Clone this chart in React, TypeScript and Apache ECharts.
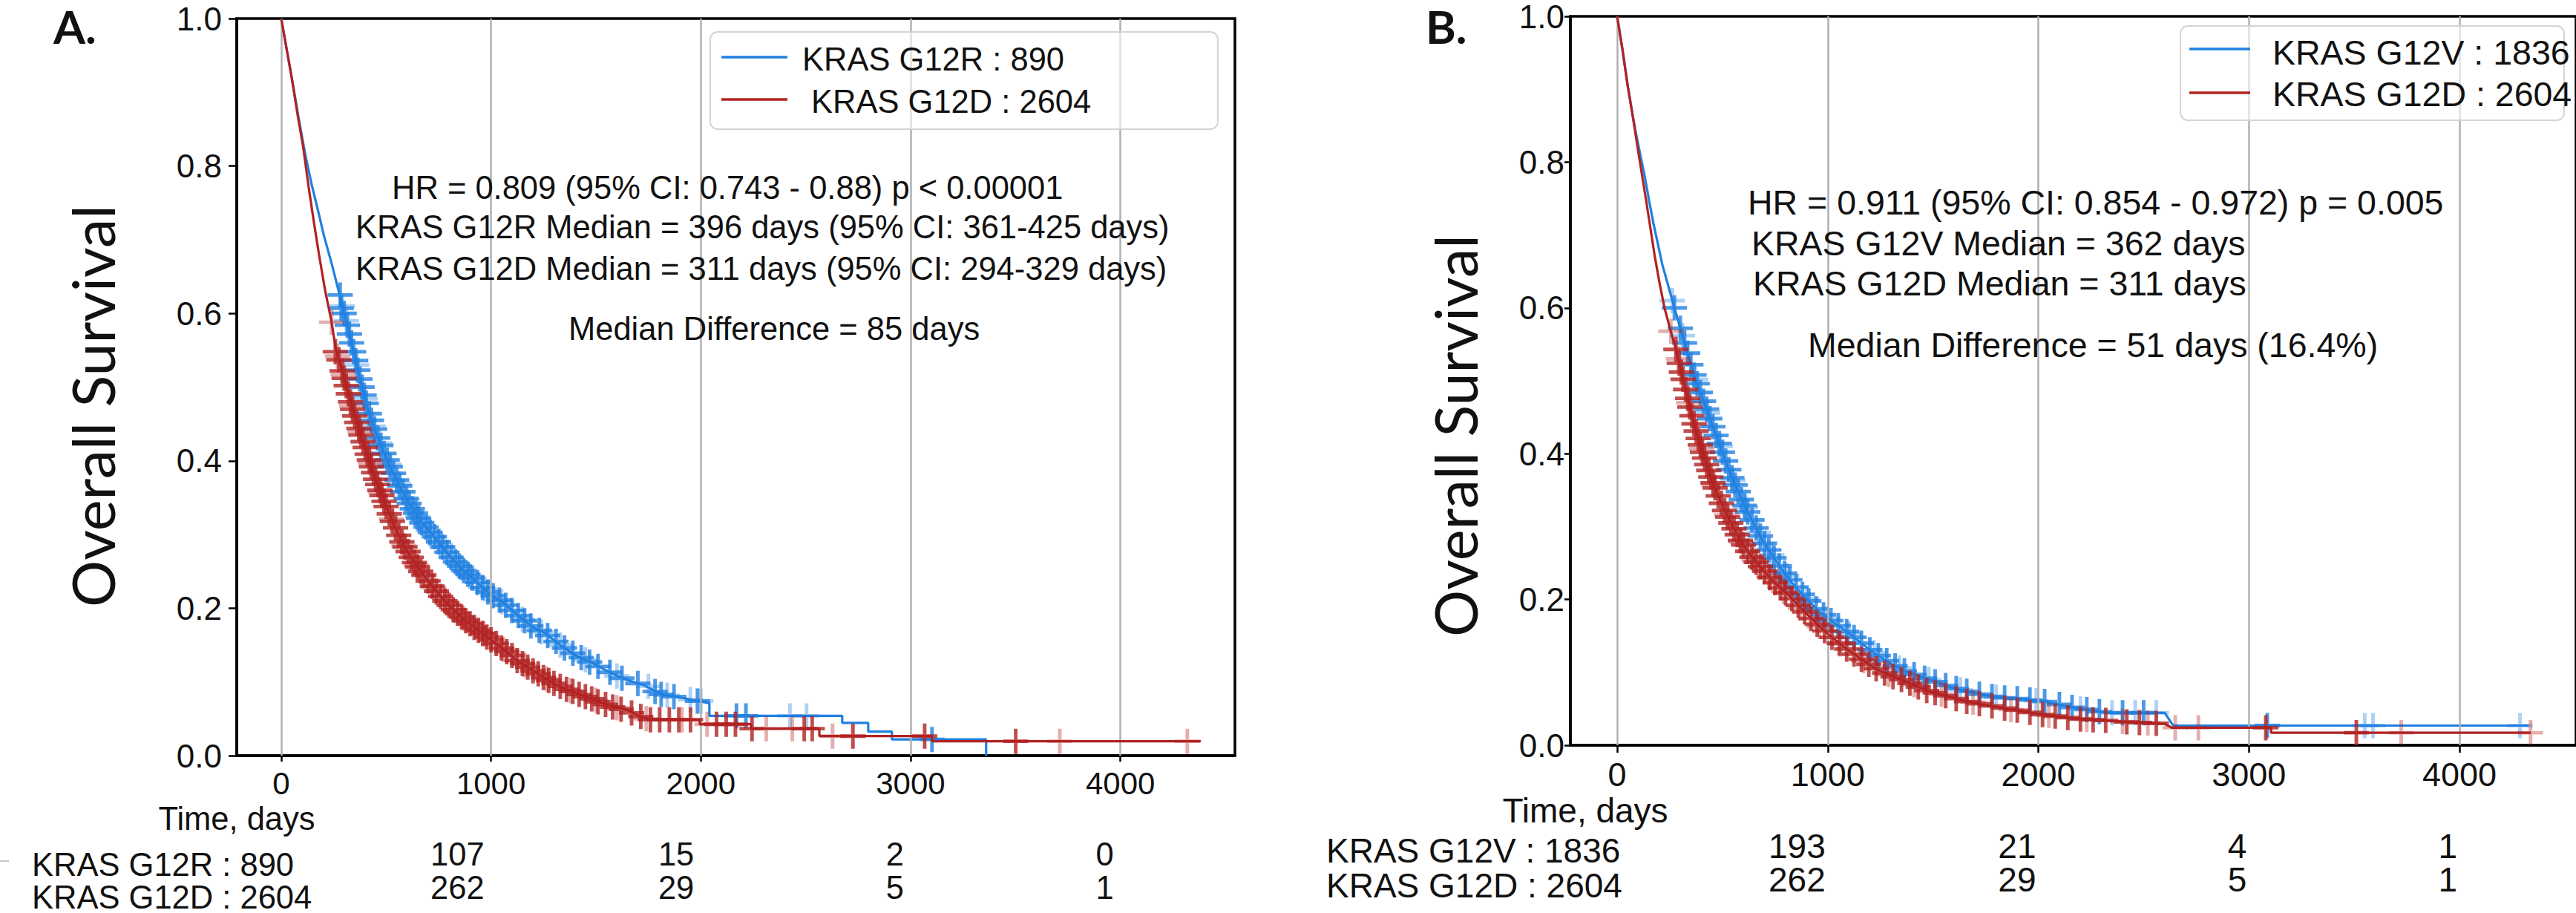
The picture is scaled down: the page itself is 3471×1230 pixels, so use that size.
import React, { useEffect, useRef } from 'react';
import * as echarts from 'echarts';

const SANS = "'Liberation Sans', Arial, Helvetica, sans-serif";
const HUMAN = "Lato, 'Open Sans', sans-serif";
const BLUE = '#1f80e0';
const BLUE_LIGHT = 'rgba(31,128,224,0.45)';
const RED = '#b22222';
const RED_LIGHT = 'rgba(178,34,34,0.45)';
const GRID_GRAY = '#b0b0b0';
const INK = '#111111';

// ---------- axis ticks ----------
const xTicks = [0, 1000, 2000, 3000, 4000];
const riskDays = [1000, 2000, 3000, 4000];

// ---------- Panel A: KRAS G12R vs G12D ----------
const aG12R_curve: [number, number][] = [
  [0, 1], [25, 0.96], [50, 0.92], [85, 0.862], [115, 0.815], [145, 0.775], [175, 0.74], [203, 0.706],
  [240, 0.668], [265, 0.64], [283, 0.62], [300, 0.6], [320, 0.578], [345, 0.548], [380, 0.505],
  [415, 0.468], [455, 0.435], [498, 0.405], [550, 0.374], [603, 0.345], [665, 0.318], [732, 0.296],
  [800, 0.272], [862, 0.253], [930, 0.236], [1000, 0.218], [1055, 0.208], [1130, 0.19], [1200, 0.174],
  [1258, 0.166], [1330, 0.15], [1410, 0.135], [1481, 0.126], [1546, 0.116], [1634, 0.104], [1726, 0.096],
  [1815, 0.083], [1928, 0.0775], [2041, 0.071], [2041, 0.054], [2674, 0.054], [2674, 0.0445],
  [2798, 0.0445], [2798, 0.0327], [2911, 0.0327], [2911, 0.022], [3360, 0.022], [3360, 0],
];
const aG12D_curve: [number, number][] = [
  [0, 1], [25, 0.96], [50, 0.92], [80, 0.866], [105, 0.825], [131, 0.771], [155, 0.725], [180, 0.68],
  [210, 0.63], [239, 0.59], [262, 0.548], [279, 0.534], [309, 0.503], [345, 0.466], [380, 0.435],
  [415, 0.405], [450, 0.375], [485, 0.349], [530, 0.318], [580, 0.287], [640, 0.26], [700, 0.237],
  [760, 0.216], [820, 0.198], [880, 0.183], [940, 0.17], [1000, 0.157], [1072, 0.1415], [1130, 0.128],
  [1185, 0.118], [1240, 0.108], [1298, 0.098], [1350, 0.091], [1410, 0.0846], [1480, 0.077],
  [1546, 0.0695], [1650, 0.062], [1703, 0.054], [1760, 0.0487], [1995, 0.0487], [1995, 0.0426],
  [2240, 0.0426], [2240, 0.0366], [2565, 0.0366], [2565, 0.0265], [3102, 0.0265], [3102, 0.0195],
  [4383, 0.0195],
];
const aG12R_censor: [number, number][] = [
  [281, 0.625], [286, 0.607], [300, 0.6], [315, 0.584], [325, 0.572], [335, 0.56], [345, 0.548], [355, 0.536],
  [365, 0.523], [375, 0.511], [385, 0.5], [395, 0.489], [405, 0.478], [420, 0.464], [430, 0.455],
  [445, 0.443], [460, 0.431], [475, 0.421], [490, 0.41], [505, 0.401], [520, 0.392], [535, 0.383],
  [550, 0.374], [565, 0.366], [580, 0.358], [595, 0.349], [610, 0.342], [625, 0.335], [640, 0.329],
  [655, 0.322], [670, 0.316], [690, 0.31], [710, 0.303], [730, 0.297], [750, 0.29], [770, 0.283],
  [790, 0.276], [810, 0.269], [830, 0.263], [850, 0.257], [870, 0.251], [890, 0.246], [910, 0.241],
  [935, 0.235], [960, 0.228], [985, 0.222], [1010, 0.217], [1040, 0.211], [1070, 0.204], [1100, 0.197],
  [1130, 0.19], [1160, 0.183], [1190, 0.176], [1230, 0.17], [1270, 0.163], [1310, 0.155], [1350, 0.146],
  [1390, 0.139], [1430, 0.133], [1470, 0.127], [1510, 0.121], [1567, 0.113], [1624, 0.105], [1700, 0.098],
  [1782, 0.087], [1811, 0.083], [1872, 0.08], [1984, 0.074], [2170, 0.054], [2215, 0.054], [3102, 0.022],
];
const aG12R_censorLight: [number, number][] = [
  [292, 0.61], [310, 0.59], [360, 0.53], [400, 0.484], [440, 0.447], [470, 0.424], [515, 0.395],
  [560, 0.369], [600, 0.347], [650, 0.324], [700, 0.306], [760, 0.286], [840, 0.26], [900, 0.243],
  [970, 0.226], [1050, 0.209], [1150, 0.185], [1240, 0.168], [1330, 0.15], [1450, 0.13], [1600, 0.108],
  [1750, 0.094], [1840, 0.082], [1950, 0.076], [2000, 0.074], [2425, 0.054], [2504, 0.054],
];
const aG12D_censor: [number, number][] = [
  [258, 0.548], [275, 0.537], [290, 0.522], [300, 0.512], [310, 0.502], [320, 0.491], [330, 0.48],
  [340, 0.47], [350, 0.461], [360, 0.452], [370, 0.444], [380, 0.435], [390, 0.426], [400, 0.418],
  [410, 0.409], [420, 0.401], [430, 0.392], [440, 0.384], [450, 0.375], [460, 0.368], [470, 0.36],
  [480, 0.353], [490, 0.345], [500, 0.338], [515, 0.328], [530, 0.318], [545, 0.309], [560, 0.299],
  [575, 0.29], [590, 0.283], [605, 0.277], [620, 0.269], [635, 0.262], [650, 0.256], [665, 0.25],
  [680, 0.245], [700, 0.237], [720, 0.23], [740, 0.223], [760, 0.216], [780, 0.21], [800, 0.204],
  [820, 0.198], [840, 0.193], [860, 0.188], [880, 0.183], [900, 0.179], [920, 0.174], [940, 0.17],
  [960, 0.166], [980, 0.161], [1000, 0.157], [1025, 0.152], [1050, 0.146], [1075, 0.141], [1100, 0.136],
  [1125, 0.129], [1150, 0.125], [1175, 0.12], [1200, 0.115], [1225, 0.111], [1250, 0.106], [1275, 0.102],
  [1300, 0.098], [1330, 0.094], [1360, 0.09], [1390, 0.087], [1420, 0.083], [1450, 0.08], [1480, 0.077],
  [1510, 0.073], [1546, 0.0695], [1580, 0.066], [1620, 0.063], [1670, 0.058], [1714, 0.053],
  [1760, 0.0487], [1804, 0.0487], [1850, 0.0487], [1895, 0.0487], [1951, 0.0487], [2075, 0.0426],
  [2121, 0.0426], [2165, 0.0426], [2244, 0.0366], [2493, 0.0366], [2531, 0.0366], [2725, 0.0265],
  [3067, 0.0265], [3501, 0.0195],
];
const aG12D_censorLight: [number, number][] = [
  [240, 0.588], [268, 0.542], [295, 0.517], [335, 0.475], [375, 0.44], [425, 0.397], [475, 0.357],
  [525, 0.321], [585, 0.285], [645, 0.258], [725, 0.228], [790, 0.207], [870, 0.186], [965, 0.165],
  [1060, 0.144], [1160, 0.123], [1265, 0.104], [1380, 0.088], [1500, 0.075], [1600, 0.065],
  [1740, 0.05], [1910, 0.0487], [2030, 0.0426], [2312, 0.0366], [2436, 0.0366], [2628, 0.0265],
  [3711, 0.0195], [4319, 0.0195],
];

// ---------- Panel B: KRAS G12V vs G12D ----------
const bG12V_curve: [number, number][] = [
  [0, 1], [25, 0.955], [50, 0.905], [85, 0.846], [110, 0.81], [132, 0.779], [152, 0.747], [173, 0.715],
  [194, 0.687], [214, 0.66], [243, 0.63], [272, 0.6], [296, 0.576], [320, 0.552], [343, 0.53],
  [366, 0.507], [395, 0.484], [425, 0.461], [453, 0.438], [482, 0.416], [511, 0.393], [541, 0.37],
  [576, 0.347], [612, 0.325], [652, 0.302], [693, 0.28], [740, 0.259], [787, 0.239], [833, 0.222],
  [880, 0.207], [953, 0.185], [1020, 0.17], [1090, 0.156], [1160, 0.14], [1227, 0.125], [1295, 0.113],
  [1364, 0.102], [1430, 0.095], [1501, 0.088], [1570, 0.081], [1639, 0.075], [1730, 0.07],
  [1822, 0.065], [2005, 0.0617], [2141, 0.053], [2326, 0.0445], [2600, 0.0445], [2640, 0.027],
  [4329, 0.027],
];
const bG12D_curve: [number, number][] = [
  [0, 1], [25, 0.955], [50, 0.905], [80, 0.852], [100, 0.815], [120, 0.779], [138, 0.747], [155, 0.715],
  [178, 0.672], [202, 0.633], [225, 0.6], [249, 0.574], [279, 0.543], [313, 0.502], [334, 0.477],
  [355, 0.452], [378, 0.428], [401, 0.406], [424, 0.386], [447, 0.366], [476, 0.345], [506, 0.325],
  [546, 0.302], [587, 0.28], [633, 0.261], [682, 0.244], [745, 0.224], [810, 0.207], [880, 0.186],
  [953, 0.165], [1020, 0.148], [1090, 0.132], [1160, 0.118], [1227, 0.105], [1295, 0.096],
  [1364, 0.088], [1430, 0.08], [1501, 0.072], [1570, 0.067], [1639, 0.0617], [1730, 0.056],
  [1822, 0.0516], [1910, 0.047], [2005, 0.0428], [2095, 0.039], [2187, 0.0364], [2372, 0.0327],
  [2600, 0.0293], [2634, 0.024], [3105, 0.024], [3105, 0.0172], [4339, 0.0172],
];
const bG12V_censor: [number, number][] = [
  [272, 0.6], [300, 0.572], [320, 0.552], [335, 0.538], [350, 0.522], [365, 0.508], [380, 0.496],
  [395, 0.484], [410, 0.472], [425, 0.461], [440, 0.448], [455, 0.437], [470, 0.425], [485, 0.414],
  [500, 0.402], [515, 0.39], [530, 0.378], [545, 0.367], [560, 0.357], [575, 0.348], [590, 0.337],
  [605, 0.329], [620, 0.32], [640, 0.309], [660, 0.298], [680, 0.287], [700, 0.277], [720, 0.268],
  [745, 0.257], [770, 0.246], [795, 0.236], [820, 0.227], [850, 0.217], [880, 0.207], [910, 0.198],
  [945, 0.187], [980, 0.179], [1015, 0.171], [1050, 0.164], [1090, 0.156], [1125, 0.148], [1160, 0.14],
  [1200, 0.131], [1240, 0.123], [1280, 0.116], [1320, 0.109], [1364, 0.102], [1410, 0.097],
  [1460, 0.092], [1510, 0.087], [1560, 0.082], [1610, 0.078], [1660, 0.074], [1720, 0.07],
  [1780, 0.067], [1840, 0.065], [1900, 0.064], [1960, 0.062], [2030, 0.06], [2100, 0.056],
  [2160, 0.052], [2230, 0.049], [2290, 0.046], [2400, 0.0445], [2500, 0.0445], [3087, 0.027],
];
const bG12V_censorLight: [number, number][] = [
  [262, 0.61], [310, 0.562], [372, 0.502], [430, 0.456], [490, 0.41], [550, 0.363], [610, 0.326],
  [670, 0.292], [735, 0.261], [805, 0.233], [900, 0.201], [1000, 0.174], [1100, 0.153], [1220, 0.127],
  [1340, 0.106], [1480, 0.09], [1630, 0.076], [1800, 0.066], [1990, 0.061], [2200, 0.05],
  [2350, 0.0445], [2460, 0.0445], [2560, 0.0445], [3550, 0.027], [3589, 0.027], [4287, 0.027],
];
const bG12D_censor: [number, number][] = [
  [279, 0.543], [295, 0.524], [305, 0.512], [313, 0.502], [325, 0.488], [335, 0.476], [345, 0.464],
  [355, 0.452], [365, 0.441], [375, 0.431], [385, 0.421], [395, 0.412], [405, 0.402], [415, 0.394],
  [425, 0.385], [435, 0.377], [445, 0.368], [455, 0.36], [465, 0.353], [480, 0.342], [495, 0.332],
  [510, 0.322], [525, 0.313], [540, 0.305], [555, 0.297], [570, 0.289], [585, 0.281], [600, 0.275],
  [620, 0.266], [640, 0.258], [660, 0.251], [680, 0.245], [700, 0.239], [725, 0.23], [750, 0.223],
  [775, 0.216], [800, 0.209], [830, 0.201], [860, 0.192], [890, 0.183], [920, 0.174], [950, 0.166],
  [985, 0.157], [1020, 0.148], [1055, 0.14], [1090, 0.132], [1125, 0.125], [1160, 0.118], [1195, 0.111],
  [1230, 0.105], [1270, 0.099], [1310, 0.094], [1350, 0.09], [1390, 0.085], [1430, 0.08], [1470, 0.075],
  [1510, 0.072], [1560, 0.068], [1610, 0.064], [1660, 0.06], [1720, 0.057], [1780, 0.054], [1840, 0.051],
  [1900, 0.048], [1960, 0.045], [2020, 0.042], [2080, 0.04], [2140, 0.038], [2200, 0.036], [2260, 0.035],
  [2320, 0.034], [2420, 0.032], [2480, 0.031], [2560, 0.03], [3080, 0.024], [3510, 0.0172],
];
const bG12D_censorLight: [number, number][] = [
  [255, 0.568], [290, 0.53], [340, 0.47], [400, 0.407], [460, 0.357], [520, 0.316], [590, 0.279],
  [650, 0.254], [720, 0.232], [790, 0.211], [870, 0.188], [960, 0.163], [1060, 0.139], [1170, 0.116],
  [1290, 0.097], [1410, 0.083], [1540, 0.07], [1690, 0.059], [1870, 0.049], [2050, 0.041],
  [2230, 0.0355], [2400, 0.0325], [2520, 0.0305], [2650, 0.024], [2760, 0.024], [3723, 0.0172],
  [4337, 0.0172],
];

// ---------- numbers at risk ----------
const riskA_G12R = [107, 15, 2, 0];
const riskA_G12D = [262, 29, 5, 1];
const riskB_G12V = [193, 21, 4, 1];
const riskB_G12D = [262, 29, 5, 1];

// ---------- texts ----------
const legendA = ['KRAS G12R : 890', 'KRAS G12D : 2604'];
const legendB = ['KRAS G12V : 1836', 'KRAS G12D : 2604'];
const notesA = [
  'HR = 0.809 (95% CI: 0.743 - 0.88) p < 0.00001',
  'KRAS G12R Median = 396 days (95% CI: 361-425 days)',
  'KRAS G12D Median = 311 days (95% CI: 294-329 days)',
  'Median Difference = 85 days',
];
const notesB = [
  'HR = 0.911 (95% CI: 0.854 - 0.972) p = 0.005',
  'KRAS G12V Median = 362 days',
  'KRAS G12D Median = 311 days',
  'Median Difference = 51 days (16.4%)',
];

const PLUS = 'path://M-2.3,-16L2.3,-16L2.3,-2.3L16,-2.3L16,2.3L2.3,2.3L2.3,16L-2.3,16L-2.3,2.3L-16,2.3L-16,-2.3L-2.3,-2.3Z';

function curve(data: [number, number][], color: string, gi: number, z: number) {
  return {
    type: 'line', xAxisIndex: gi, yAxisIndex: gi, data, showSymbol: false, symbol: 'none',
    lineStyle: { color, width: 3.2 }, itemStyle: { color }, z, silent: true, clip: true,
  };
}
function marks(data: [number, number][], color: string, gi: number, z: number) {
  return {
    type: 'scatter', xAxisIndex: gi, yAxisIndex: gi, data, symbol: PLUS, symbolSize: 34,
    itemStyle: { color }, z, silent: true,
  };
}
function gridLines(gi: number) {
  return {
    type: 'line', xAxisIndex: gi, yAxisIndex: gi, data: [], z: 1, silent: true,
    markLine: {
      silent: true, symbol: 'none', label: { show: false },
      lineStyle: { color: GRID_GRAY, width: 2.5, type: 'solid' },
      data: xTicks.map((v) => ({ xAxis: v })),
    },
  };
}
function xAxisCfg(gi: number, min: number, max: number, fs: number, margin: number, tickLen: number) {
  return {
    type: 'value', gridIndex: gi, min, max,
    axisLine: { show: true, onZero: false, lineStyle: { color: '#000', width: 3.5 } },
    axisTick: { show: true, customValues: xTicks, length: tickLen, lineStyle: { color: '#000', width: 2.5 } },
    axisLabel: {
      customValues: xTicks, fontSize: fs, fontFamily: SANS, color: INK, margin,
      formatter: (v: number) => String(Math.round(v)),
    },
    splitLine: { show: false },
  };
}
function yAxisCfg(gi: number, margin: number, tickLen: number) {
  return {
    type: 'value', gridIndex: gi, min: 0, max: 1, interval: 0.2,
    axisLine: { show: true, onZero: false, lineStyle: { color: '#000', width: 3.5 } },
    axisTick: { show: true, length: tickLen, lineStyle: { color: '#000', width: 2.5 } },
    axisLabel: {
      fontSize: 44, fontFamily: SANS, color: INK, margin, padding: [10, 0, 0, 0],
      formatter: (v: number) => v.toFixed(1),
    },
    splitLine: { show: false },
  };
}

function txt(text: string, x: number, y: number, fontSize: number, extra: any = {}) {
  return {
    type: 'text', x, y, z: 20, silent: true, rotation: extra.rotation || 0,
    style: {
      text, fontSize, fontFamily: extra.fontFamily || SANS, fontWeight: extra.fontWeight || 'normal',
      fill: extra.fill || INK, align: extra.align || 'left', verticalAlign: 'middle',
      lineHeight: extra.lineHeight || undefined,
    },
  };
}

export default function App() {
  const ref = useRef<HTMLDivElement>(null);
  useEffect(() => {
    if (!ref.current) return;
    const chart = echarts.init(ref.current, undefined, { renderer: 'svg' });
    const option: any = {
      animation: false,
      backgroundColor: '#ffffff',
      grid: [
        { left: 319, top: 25, width: 1345, height: 993, show: true, borderColor: '#000', borderWidth: 3.5, backgroundColor: 'transparent' },
        { left: 2116, top: 15, width: 1358, height: 989, show: true, borderColor: '#000', borderWidth: 3.5, backgroundColor: 'transparent' },
      ],
      xAxis: [xAxisCfg(0, -212, 4546, 42, 16, 8), xAxisCfg(1, -222, 4553, 45, 17, 10)],
      yAxis: [yAxisCfg(0, 20, 11), yAxisCfg(1, 8, 8)],
      series: [
        gridLines(0),
        curve(aG12R_curve, BLUE, 0, 3),
        marks(aG12R_censorLight, BLUE_LIGHT, 0, 4),
        marks(aG12R_censor, BLUE, 0, 4),
        curve(aG12D_curve, RED, 0, 5),
        marks(aG12D_censorLight, RED_LIGHT, 0, 6),
        marks(aG12D_censor, RED, 0, 6),
        gridLines(1),
        curve(bG12V_curve, BLUE, 1, 3),
        marks(bG12V_censorLight, BLUE_LIGHT, 1, 4),
        marks(bG12V_censor, BLUE, 1, 4),
        curve(bG12D_curve, RED, 1, 5),
        marks(bG12D_censorLight, RED_LIGHT, 1, 6),
        marks(bG12D_censor, RED, 1, 6),
      ],
    };
    chart.setOption(option);

    const px = (gi: number, d: number) => chart.convertToPixel({ xAxisIndex: gi } as any, d) as number;
    const g: any[] = [];
    // panel letters
    g.push(txt('A.', 72, 35, 62, { fontFamily: HUMAN, fontWeight: 'bold', lineHeight: 50 }));
    g.push(txt('B.', 1921, 35, 62, { fontFamily: HUMAN, fontWeight: 'bold', lineHeight: 50 }));
    // y axis titles
    g.push(txt('Overall Survival', 124, 547, 79, { fontFamily: HUMAN, rotation: Math.PI / 2, align: 'center' }));
    g.push(txt('Overall Survival', 1960, 587, 79, { fontFamily: HUMAN, rotation: Math.PI / 2, align: 'center' }));
    // x axis titles
    g.push(txt('Time, days', 319, 1103, 43.5, { align: 'center' }));
    g.push(txt('Time, days', 2136, 1092, 46, { align: 'center' }));
    // legends
    g.push({ type: 'rect', z: 19, silent: true, shape: { x: 957, y: 43, width: 684, height: 131, r: 10 }, style: { fill: 'rgba(255,255,255,0.6)', stroke: '#d4d4d4', lineWidth: 2 } });
    g.push({ type: 'line', z: 20, silent: true, shape: { x1: 972, y1: 77, x2: 1061, y2: 77 }, style: { stroke: BLUE, lineWidth: 3.5 } });
    g.push({ type: 'line', z: 20, silent: true, shape: { x1: 972, y1: 134, x2: 1061, y2: 134 }, style: { stroke: RED, lineWidth: 3.5 } });
    g.push(txt(legendA[0], 1081, 80, 43.5));
    g.push(txt(legendA[1], 1093, 137, 43.5));
    g.push({ type: 'rect', z: 19, silent: true, shape: { x: 2938, y: 35, width: 517, height: 127, r: 10 }, style: { fill: 'rgba(255,255,255,0.6)', stroke: '#d4d4d4', lineWidth: 2 } });
    g.push({ type: 'line', z: 20, silent: true, shape: { x1: 2950, y1: 66, x2: 3032, y2: 66 }, style: { stroke: BLUE, lineWidth: 3.5 } });
    g.push({ type: 'line', z: 20, silent: true, shape: { x1: 2950, y1: 125, x2: 3032, y2: 125 }, style: { stroke: RED, lineWidth: 3.5 } });
    g.push(txt(legendB[0], 3062, 71, 46.5));
    g.push(txt(legendB[1], 3062, 127, 46.5));
    // annotations
    const aX = [528, 479, 479, 766];
    const aY = [253, 306, 362, 443];
    notesA.forEach((t, i) => g.push(txt(t, aX[i], aY[i], 43.5, { lineHeight: 46 })));
    const bX = [2355, 2360, 2362, 2436];
    const bY = [273, 328, 382, 465];
    notesB.forEach((t, i) => g.push(txt(t, bX[i], bY[i], 46.5, { lineHeight: 48 })));
    // risk table A
    g.push(txt(legendA[0], 43, 1165, 43.5, { lineHeight: 42 }));
    g.push(txt(legendA[1], 43, 1209, 43.5, { lineHeight: 42 }));
    g.push({ type: 'line', z: 20, silent: true, shape: { x1: 0, y1: 1160, x2: 12, y2: 1160 }, style: { stroke: '#c8c8c8', lineWidth: 2 } });
    riskDays.forEach((d, i) => {
      const x = px(0, d) - 9;
      g.push(txt(String(riskA_G12R[i]), x, 1151, 43.5, { align: 'right', lineHeight: 42 }));
      g.push(txt(String(riskA_G12D[i]), x, 1196, 43.5, { align: 'right', lineHeight: 42 }));
    });
    // risk table B
    g.push(txt(legendB[0], 1787, 1146, 46, { lineHeight: 44 }));
    g.push(txt(legendB[1], 1787, 1193, 46, { lineHeight: 44 }));
    riskDays.forEach((d, i) => {
      const x = px(1, d) - 3;
      g.push(txt(String(riskB_G12V[i]), x, 1140, 46, { align: 'right', lineHeight: 43 }));
      g.push(txt(String(riskB_G12D[i]), x, 1185, 46, { align: 'right', lineHeight: 43 }));
    });
    chart.setOption({ graphic: g });
    return () => chart.dispose();
  }, []);
  return <div ref={ref} style={{ position: 'absolute', left: 0, top: 0, width: 3471, height: 1230 }} />;
}
